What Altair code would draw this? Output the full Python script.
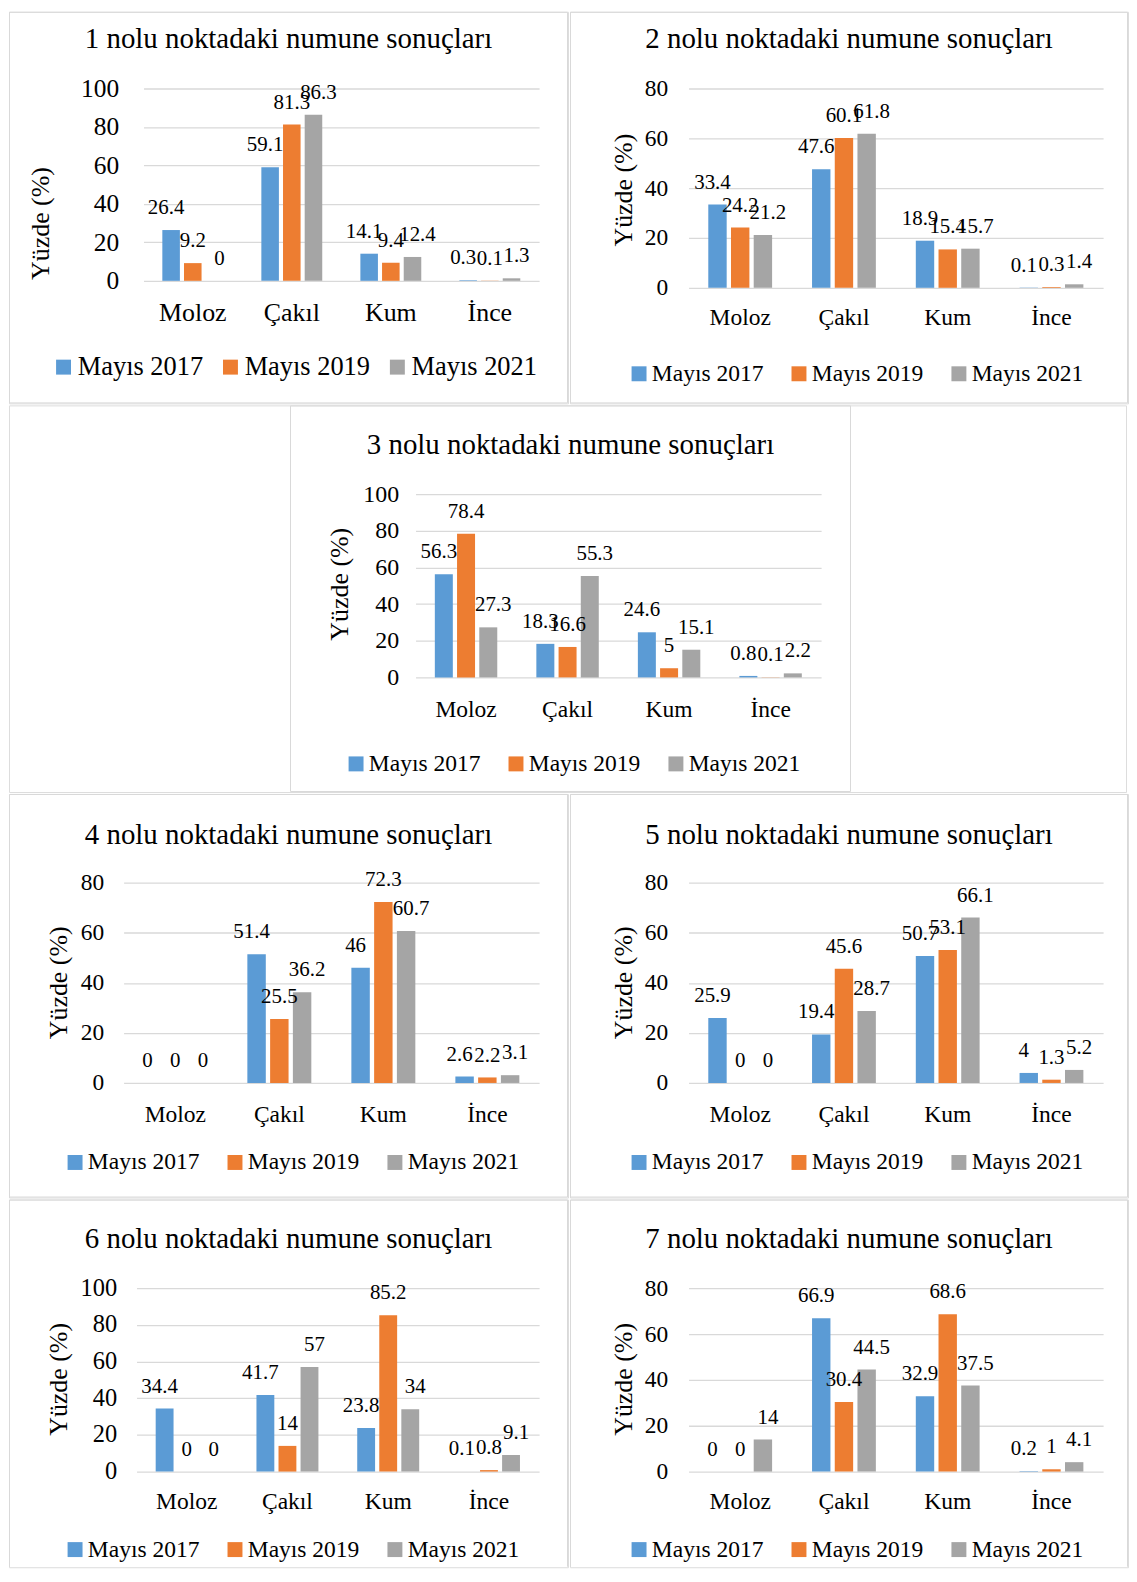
import altair as alt
import pandas as pd

FONT = "Liberation Serif"

categories = ["Moloz", "Çakıl", "Kum", "İnce"]
series = ["Mayıs 2017", "Mayıs 2019", "Mayıs 2021"]
colors = ["#5b9bd5", "#ed7d31", "#a5a5a5"]
ticks_100 = [0, 20, 40, 60, 80, 100]
ticks_80 = [0, 20, 40, 60, 80]

titles = [
    "1 nolu noktadaki numune sonuçları",
    "2 nolu noktadaki numune sonuçları",
    "3 nolu noktadaki numune sonuçları",
    "4 nolu noktadaki numune sonuçları",
    "5 nolu noktadaki numune sonuçları",
    "6 nolu noktadaki numune sonuçları",
    "7 nolu noktadaki numune sonuçları",
]

n1_2017 = [26.4, 59.1, 14.1, 0.3]
n1_2019 = [9.2, 81.3, 9.4, 0.1]
n1_2021 = [0, 86.3, 12.4, 1.3]

n2_2017 = [33.4, 47.6, 18.9, 0.1]
n2_2019 = [24.2, 60.1, 15.4, 0.3]
n2_2021 = [21.2, 61.8, 15.7, 1.4]

n3_2017 = [56.3, 18.3, 24.6, 0.8]
n3_2019 = [78.4, 16.6, 5, 0.1]
n3_2021 = [27.3, 55.3, 15.1, 2.2]

n4_2017 = [0, 51.4, 46, 2.6]
n4_2019 = [0, 25.5, 72.3, 2.2]
n4_2021 = [0, 36.2, 60.7, 3.1]

n5_2017 = [25.9, 19.4, 50.7, 4]
n5_2019 = [0, 45.6, 53.1, 1.3]
n5_2021 = [0, 28.7, 66.1, 5.2]

n6_2017 = [34.4, 41.7, 23.8, 0.1]
n6_2019 = [0, 14, 85.2, 0.8]
n6_2021 = [0, 57, 34, 9.1]

n7_2017 = [0, 66.9, 32.9, 0.2]
n7_2019 = [0, 30.4, 68.6, 1]
n7_2021 = [14, 44.5, 37.5, 4.1]

# ---- layout geometry (page pixel coordinates of the reference) ----
OY = 3  # vertical correction of the rendered page origin
geometry = [
    dict(view=(8, 5, 569, 404), border=(8, 5, 569, 404), plot=(143, 88, 540, 281), title_y=38,
         ytitle=(40, 223), tick_right=118, cat_y=313, legend=(56, 367.5), edges="ltrb",
         tick_fs=25.5, cat_fs=26, leg_fs=26.5, leg_pad=13.5),
    dict(view=(569, 5, 1129, 404), border=(569, 5, 1129, 404), plot=(688, 88, 1104, 288), title_y=38,
         ytitle=(623, 189.5), tick_right=667, cat_y=318, legend=(633, 374), edges="ltrb",
         tick_fs=23.5, cat_fs=23.6, leg_fs=23.6, leg_pad=23.5),
    dict(view=(8, 404, 1129, 792), border=(290, 404, 853, 792), plot=(416, 493, 823, 677), title_y=444,
         ytitle=(340, 583), tick_right=399, cat_y=709.5, legend=(351, 763.5), edges="ltrb",
         tick_fs=24, cat_fs=23.6, leg_fs=23.6, leg_pad=23.5),
    dict(view=(8, 792, 569, 1197), border=(8, 792, 569, 1197), plot=(123, 881, 540, 1082), title_y=833,
         ytitle=(58, 981), tick_right=103, cat_y=1113.5, legend=(69, 1161.5), edges="ltrb",
         tick_fs=23.5, cat_fs=23.6, leg_fs=23.6, leg_pad=23.5),
    dict(view=(569, 792, 1129, 1197), border=(569, 792, 1129, 1197), plot=(688, 881, 1104, 1082), title_y=833,
         ytitle=(623, 981), tick_right=667, cat_y=1113.5, legend=(633, 1161.5), edges="ltrb",
         tick_fs=23.5, cat_fs=23.6, leg_fs=23.6, leg_pad=23.5),
    dict(view=(8, 1197, 569, 1566), border=(8, 1197, 569, 1566), plot=(136, 1286, 540, 1470), title_y=1237,
         ytitle=(58, 1377), tick_right=116, cat_y=1500, legend=(69, 1548), edges="ltr",
         tick_fs=24.5, cat_fs=23.6, leg_fs=23.6, leg_pad=23.5),
    dict(view=(569, 1197, 1129, 1566), border=(569, 1197, 1129, 1566), plot=(688, 1286, 1104, 1470), title_y=1237,
         ytitle=(623, 1377), tick_right=667, cat_y=1500, legend=(633, 1548), edges="ltr",
         tick_fs=23.5, cat_fs=23.6, leg_fs=23.6, leg_pad=23.5),
]

panel_values = [
    (n1_2017, n1_2019, n1_2021, ticks_100),
    (n2_2017, n2_2019, n2_2021, ticks_80),
    (n3_2017, n3_2019, n3_2021, ticks_100),
    (n4_2017, n4_2019, n4_2021, ticks_80),
    (n5_2017, n5_2019, n5_2021, ticks_80),
    (n6_2017, n6_2019, n6_2021, ticks_100),
    (n7_2017, n7_2019, n7_2021, ticks_80),
]

BORDER = "#d9d9d9"
label_dx = [-5, 0, 5]
one = pd.DataFrame({"k": [0]})


def make_panel(idx):
    a, b, c, yticks = panel_values[idx]
    geo = geometry[idx]
    rows = []
    for s, arr in zip(series, (a, b, c)):
        for cat, v in zip(categories, arr):
            rows.append({"Kategori": cat, "Seri": s, "Yüzde": v})
    df = pd.DataFrame(rows)

    vx0, vy0, vx1, vy1 = geo["view"]
    vy0, vy1 = max(vy0 - OY, 8), vy1 - OY
    W, H = vx1 - vx0, vy1 - vy0
    gx0, gt, gx1, gb = geo["plot"]
    gt, gb = gt - OY, gb - OY

    def rx(v):
        return v - vx0

    def ry(v):
        return v - OY - vy0

    layers = []
    x0, y0, x1, y1 = geo["border"]
    y0 = max(y0 - OY, 8)
    y1 = y1 - OY
    x0, y0, x1, y1 = x0 + 0.5, y0 + 0.5, x1 - 0.5, y1 - 0.5
    segs = {"l": (x0, y0, x0, y1), "t": (x0, y0, x1, y0),
            "r": (x1, y0, x1, y1), "b": (x0, y1, x1, y1)}
    for e in geo["edges"]:
        sx0, sy0, sx1, sy1 = segs[e]
        layers.append(
            alt.Chart(one).mark_rule(color=BORDER, strokeWidth=1).encode(
                x=alt.value(rx(sx0)), x2=alt.value(rx(sx1)),
                y=alt.value(sy0 - vy0), y2=alt.value(sy1 - vy0)))

    lx, ly = geo["legend"]
    yt_x, yt_y = geo["ytitle"]
    base = alt.Chart(df).encode(
        x=alt.X("Kategori:N", sort=categories,
                scale=alt.Scale(range=[rx(gx0), rx(gx1)], paddingInner=0.385, paddingOuter=0.19),
                axis=alt.Axis(title=None, labelAngle=0, labelFontSize=geo["cat_fs"], labelFont=FONT,
                              offset=-(vy1 - gb), labelPadding=geo["cat_y"] - OY - gb,
                              labelBaseline="middle", domain=False, ticks=False, grid=False,
                              labelColor="black")),
        xOffset=alt.XOffset("Seri:N", sort=series, scale=alt.Scale(paddingInner=0.19)),
        y=alt.Y("Yüzde:Q", scale=alt.Scale(domain=[0, yticks[-1]], nice=False,
                                           range=[gb - vy0, gt - vy0]),
                axis=alt.Axis(values=yticks, grid=True, gridColor="#d9d9d9", gridWidth=1.3,
                              domain=False, ticks=False, labelFontSize=geo["tick_fs"], labelFont=FONT,
                              labelColor="black", labelPadding=gx0 - geo["tick_right"],
                              labelFlush=False, labelOverlap=False, offset=-(gx0 - vx0),
                              title="Yüzde (%)", titleFont=FONT, titleFontSize=26,
                              titleFontWeight="normal", titleColor="black", titleAngle=270,
                              titleX=yt_x - gx0, titleY=ry(yt_y), titleAlign="center",
                              titleBaseline="middle")),
    )
    bars = base.mark_bar().encode(
        color=alt.Color("Seri:N", sort=series, scale=alt.Scale(domain=series, range=colors),
                        legend=alt.Legend(orient="none", legendX=rx(lx) - 6.5,
                                          legendY=ry(ly) - geo["leg_fs"] / 2,
                                          direction="horizontal", title=None, symbolType="square",
                                          symbolSize=225, symbolStrokeWidth=0,
                                          labelFontSize=geo["leg_fs"], labelFont=FONT,
                                          labelColor="black", columnPadding=geo["leg_pad"],
                                          labelOffset=1, padding=0, labelLimit=300)))
    layers.append(bars)
    for s, dx in zip(series, label_dx):
        layers.append(
            base.transform_filter(alt.datum.Seri == s).mark_text(
                fontSize=21, font=FONT, baseline="middle", dy=-22, dx=dx, color="black"
            ).encode(text=alt.Text("Yüzde:Q", format="~g")))
    title = alt.Chart(one).mark_text(fontSize=29, font=FONT, align="center", baseline="middle",
                                     color="black").encode(
        x=alt.value(rx((geo["border"][0] + geo["border"][2]) / 2)),
        y=alt.value(ry(geo["title_y"])),
        text=alt.value(titles[idx]))
    layers.append(title)
    return alt.layer(*layers).properties(width=W, height=H)


def indep(ch):
    return ch.resolve_scale(color="independent", x="independent", y="independent",
                            xOffset="independent").resolve_legend(color="independent")


p = [make_panel(i) for i in range(7)]
row1 = indep(alt.hconcat(p[0], p[1], spacing=0))
row3 = indep(alt.hconcat(p[3], p[4], spacing=0))
row4 = indep(alt.hconcat(p[5], p[6], spacing=0))

chart = indep(alt.vconcat(row1, p[2], row3, row4, spacing=0)).properties(
    padding=0
).configure_view(strokeWidth=0).configure(font=FONT)

chart.save("out.html", embed_options={"renderer": "svg", "actions": False})
